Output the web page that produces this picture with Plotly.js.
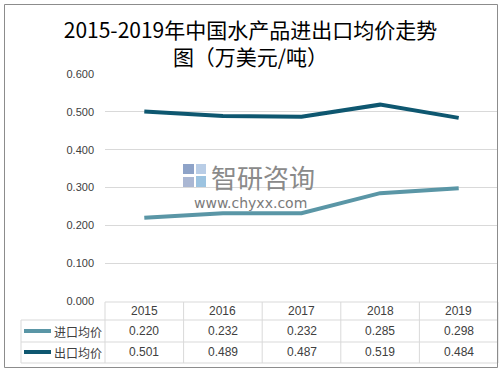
<!DOCTYPE html>
<html><head><meta charset="utf-8">
<script src="https://cdn.plot.ly/plotly-3.0.1.min.js"></script>
<style>html,body{margin:0;padding:0;background:#fff}#c{width:501px;height:373px}</style>
</head><body><div id="c"></div>
<script>
var years = ['2015','2016','2017','2018','2019'];
var seriesNames = ['进口均价','出口均价'];
var importPrice = [0.220,0.232,0.232,0.285,0.298];
var exportPrice = [0.501,0.489,0.487,0.519,0.484];
var yTicks = [0,0.1,0.2,0.3,0.4,0.5,0.6];

var W=501,H=373,L=105,R=3,T=74,B=72;
var pw=W-L-R, ph=H-T-B;
function px(X){return (X-L)/pw;}
function py(Y){return (H-B-Y)/ph;}

var colors=['#5a96a6','#0e5770'];
var xs=years.map(function(_,i){return i;});
var traces=[
 {x:xs,y:importPrice,name:seriesNames[0],type:'scatter',mode:'lines',line:{color:colors[0],width:4,shape:'linear'}},
 {x:xs,y:exportPrice,name:seriesNames[1],type:'scatter',mode:'lines',line:{color:colors[1],width:4}}
];

var grid='#d9d9d9';
var shapes=[];
var colX=[105,183.6,262.2,340.8,419.4,498];
shapes.push({type:'line',xref:'paper',yref:'paper',x0:px(105),x1:px(498),y0:py(302),y1:py(302),line:{color:grid,width:1}});
[320,342,363].forEach(function(Y){
 shapes.push({type:'line',xref:'paper',yref:'paper',x0:px(21),x1:px(498),y0:py(Y),y1:py(Y),line:{color:grid,width:1}});
});
colX.forEach(function(X){
 shapes.push({type:'line',xref:'paper',yref:'paper',x0:px(X),x1:px(X),y0:py(302),y1:py(363),line:{color:grid,width:1}});
});
shapes.push({type:'line',xref:'paper',yref:'paper',x0:px(21),x1:px(21),y0:py(320),y1:py(363),line:{color:grid,width:1}});
[331,352].forEach(function(Y,i){
 shapes.push({type:'line',xref:'paper',yref:'paper',x0:px(24),x1:px(51),y0:py(Y),y1:py(Y),line:{color:colors[i],width:4}});
});
shapes.push({type:'rect',xref:'paper',yref:'paper',x0:px(4.5),x1:px(497.5),y0:py(4.5),y1:py(367.5),line:{color:'#8c8c8c',width:1}});
shapes.push({type:'rect',xref:'paper',yref:'paper',x0:px(183),x1:px(194),y0:py(164),y1:py(174),fillcolor:'#8ea3c8',line:{width:0}});
shapes.push({type:'rect',xref:'paper',yref:'paper',x0:px(196),x1:px(206),y0:py(176),y1:py(187),fillcolor:'#9cc3e0',line:{width:0}});
shapes.push({type:'rect',xref:'paper',yref:'paper',x0:px(183),x1:px(194),y0:py(177),y1:py(187),fillcolor:'#aab7d3',line:{width:0}});
shapes.push({type:'rect',xref:'paper',yref:'paper',x0:px(196),x1:px(206),y0:py(164),y1:py(174),fillcolor:'#b9cde6',line:{width:0}});

var tf={family:'Liberation Sans, Arial, sans-serif',size:12,color:'#404040'};
var cf={family:'Noto Sans CJK SC, sans-serif',size:12,color:'#404040'};
var ann=[];
years.forEach(function(y,i){
 ann.push({x:i,xref:'x',y:py(311),yref:'paper',text:y,showarrow:false,font:tf,xanchor:'center',yanchor:'middle'});
 ann.push({x:i,xref:'x',y:py(331),yref:'paper',text:importPrice[i].toFixed(3),showarrow:false,font:tf,xanchor:'center',yanchor:'middle'});
 ann.push({x:i,xref:'x',y:py(352),yref:'paper',text:exportPrice[i].toFixed(3),showarrow:false,font:tf,xanchor:'center',yanchor:'middle'});
});
[331,352].forEach(function(Y,i){
 ann.push({x:px(52),xref:'paper',y:py(Y),yref:'paper',text:seriesNames[i],showarrow:false,font:cf,xanchor:'left',yanchor:'middle'});
});
ann.push({x:px(209),xref:'paper',y:py(176),yref:'paper',text:'智研咨询',showarrow:false,font:{family:'Noto Sans CJK SC, sans-serif',size:26,color:'#8a8a8a'},xanchor:'left',yanchor:'middle'});
ann.push({x:px(250),xref:'paper',y:py(203),yref:'paper',text:'www.chyxx.com',showarrow:false,font:{family:'DejaVu Sans, sans-serif',size:14,color:'#7a7a7a'},xanchor:'center',yanchor:'middle'});

var layout={
 width:W,height:H,margin:{l:L,r:R,t:T,b:B},
 paper_bgcolor:'#fff',plot_bgcolor:'#fff',showlegend:false,
 title:{text:'2015-2019年中国水产品进出口均价走势<br>图（万美元/吨）',x:0.5,xref:'container',y:1-38/H,yref:'container',yanchor:'top',
   font:{family:'Noto Sans CJK SC, sans-serif',size:21,color:'#000',weight:'normal'}},
 xaxis:{range:[-0.5,4.5],showgrid:false,zeroline:false,showticklabels:false,showline:false,fixedrange:true},
 yaxis:{range:[0,0.6],tickvals:yTicks,ticktext:yTicks.map(function(v){return v.toFixed(3);}),showgrid:true,gridcolor:grid,gridwidth:1,zeroline:false,showline:false,
   tickfont:{family:'Liberation Sans, Arial, sans-serif',size:11,color:'#404040'},ticklabelstandoff:10},
 shapes:shapes,annotations:ann
};
Plotly.newPlot('c',traces,layout,{displayModeBar:false,staticPlot:true});
</script></body></html>
